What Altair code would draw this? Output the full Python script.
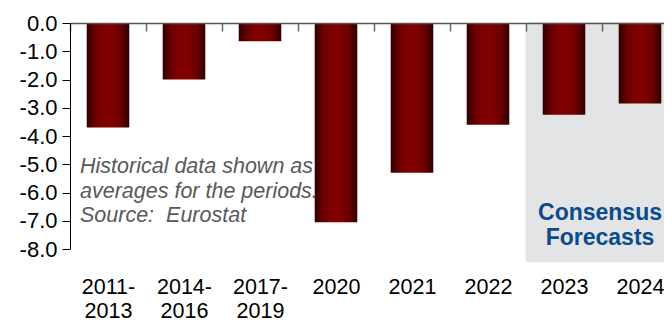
import altair as alt
import pandas as pd

categories = ["2011-2013", "2014-2016", "2017-2019", "2020", "2021", "2022", "2023", "2024"]
values = [-3.7, -2.0, -0.65, -7.05, -5.3, -3.6, -3.25, -2.85]
forecast_cats = ["2023", "2024"]
shade_bottom = -8.45
note_lines = ["Historical data shown as", "averages for the periods.", "Source:\u00a0 Eurostat"]
note_y = -5.31
forecast_label = ["Consensus", "Forecasts"]
forecast_y = -6.97

df = pd.DataFrame({"cat": categories, "val": values})
shade_df = pd.DataFrame({"cat": forecast_cats, "top": [0.0] * len(forecast_cats),
                         "bottom": [shade_bottom] * len(forecast_cats)})
note_df = pd.DataFrame({"cat": [categories[0]], "y": [note_y], "t": [note_lines]})
fc_df = pd.DataFrame({"cat": [forecast_cats[0]], "y": [forecast_y], "t": [forecast_label]})

FONT = "Liberation Sans"

xscale = alt.Scale(domain=categories, paddingInner=0, paddingOuter=0, range=[0, 608])
yscale = alt.Scale(domain=[-8, 0], nice=False, zero=False)

x_axis = alt.Axis(
    orient="bottom", offset=-226, title=None, labelAngle=0,
    labelFont=FONT, labelFontSize=21.5, labelColor="#000000",
    labelExpr="indexof(datum.label, '-') > 0 ? [slice(datum.label, 0, 5), slice(datum.label, 5)] : datum.label",
    labelLineHeight=24, labelPadding=245, labelOverlap=False, labelBound=False,
    domainColor="#555555", domainWidth=1.5, tickColor="#666666", tickWidth=1.5,
    tickSize=8, tickBand="extent", zindex=1,
)
y_axis = alt.Axis(
    title=None, values=[0, -1, -2, -3, -4, -5, -6, -7, -8],
    labelExpr="(datum.value < 0 ? '-' : '') + format(abs(datum.value), '.1f')",
    labelFont=FONT, labelFontSize=22, labelColor="#000000", labelPadding=5,
    labelOverlap=False, labelBound=False,
    domainColor="#000000", domainWidth=1, tickColor="#000000", tickSize=8,
    grid=False, zindex=1,
)

def X(**kw):
    return alt.X("cat:N", scale=xscale, axis=x_axis, sort=categories, **kw)

def Y(field):
    return alt.Y(field, scale=yscale, axis=y_axis)

shade = alt.Chart(shade_df).mark_rect(
    color="#e3e4e6", stroke="#e3e4e6", strokeWidth=1, clip=False
).encode(
    x=X(),
    y=Y("top:Q"),
    y2="bottom:Q",
)

gradient = alt.LinearGradient(
    gradient="linear", x1=0, x2=1, y1=0, y2=0,
    stops=[
        alt.GradientStop(color="#300000", offset=0),
        alt.GradientStop(color="#6a0000", offset=0.2),
        alt.GradientStop(color="#800000", offset=0.4),
        alt.GradientStop(color="#800000", offset=0.6),
        alt.GradientStop(color="#6a0000", offset=0.8),
        alt.GradientStop(color="#300000", offset=1),
    ],
)

bars = alt.Chart(df).mark_bar(color=gradient, width=alt.RelativeBandSize(0.56)).encode(
    x=X(),
    y=Y("val:Q"),
    y2=alt.datum(0),
)

note = alt.Chart(note_df).mark_text(
    align="left", baseline="alphabetic", font=FONT, fontSize=21.5, fontStyle="italic",
    color="#595959", lineHeight=24.5, dx=-28,
).encode(
    x=X(bandPosition=0.5),
    y=Y("y:Q"),
    text="t",
)

fc = alt.Chart(fc_df).mark_text(
    align="center", baseline="alphabetic", font=FONT, fontSize=23, fontWeight="bold",
    color="#0b4a8c", lineHeight=25, dx=-2,
).encode(
    x=X(bandPosition=1),
    y=Y("y:Q"),
    text="t",
)

chart = alt.layer(shade, bars, note, fc).properties(
    width=594, height=226,
    autosize=alt.AutoSizeParams(type="none"),
    padding={"left": 62, "top": 15, "right": 0, "bottom": 72},
).configure_view(stroke=None)

chart.save("out.html", embed_options={"renderer": "svg", "actions": False})
